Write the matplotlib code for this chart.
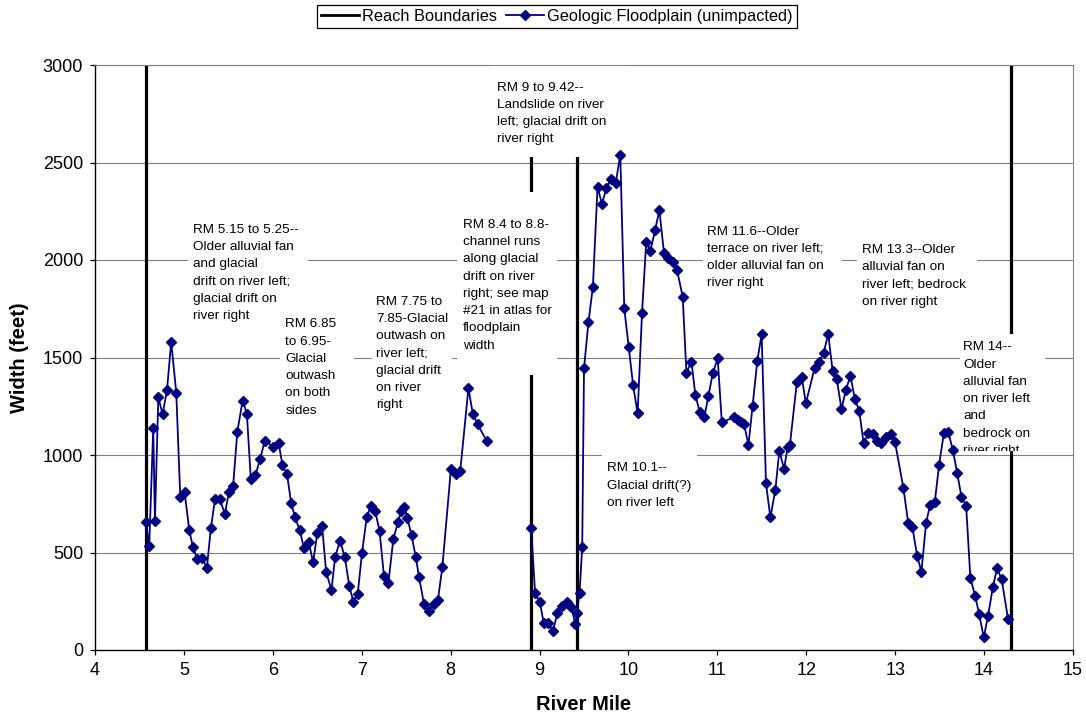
import matplotlib
matplotlib.use('Agg')
import matplotlib.pyplot as plt
from matplotlib.patches import Rectangle
from matplotlib.lines import Line2D
from matplotlib.transforms import Bbox, TransformedBbox

plt.rcParams['font.family'] = ['Liberation Sans', 'DejaVu Sans']

# ---------------- data ----------------
# Geologic floodplain width, upstream segment (RM 4.57 - 8.4)
river_mile_a = [4.570, 4.610, 4.655, 4.674, 4.712, 4.760, 4.810, 4.857, 4.914, 4.959,
                5.008, 5.060, 5.100, 5.150, 5.206, 5.258, 5.303, 5.350, 5.404, 5.460,
                5.506, 5.554, 5.600, 5.660, 5.708, 5.753, 5.805, 5.857, 5.910, 6.005,
                6.066, 6.108, 6.160, 6.206, 6.250, 6.303, 6.348, 6.404, 6.453, 6.500,
                6.554, 6.600, 6.660, 6.700, 6.756, 6.810, 6.860, 6.907, 6.955, 7.003,
                7.056, 7.100, 7.150, 7.200, 7.250, 7.300, 7.356, 7.408, 7.445, 7.480,
                7.513, 7.560, 7.607, 7.644, 7.700, 7.753, 7.810, 7.857, 7.907, 8.003,
                8.056, 8.108, 8.200, 8.250, 8.303, 8.404]
width_a = [658, 535, 1137, 662, 1296, 1209, 1333, 1581, 1319, 786,
           810, 615, 530, 465, 473, 419, 624, 774, 774, 697,
           809, 843, 1116, 1279, 1212, 875, 897, 979, 1073, 1043,
           1060, 949, 901, 755, 680, 615, 525, 552, 451, 598,
           638, 398, 308, 475, 561, 475, 330, 245, 289, 497,
           680, 738, 714, 612, 381, 345, 571, 655, 714, 735,
           679, 588, 479, 376, 236, 198, 234, 256, 426, 927,
           904, 918, 1342, 1210, 1159, 1072]

# Geologic floodplain width, downstream segment (RM 8.9 - 14.3)
river_mile_b = [8.906, 8.950, 9.003, 9.048, 9.100, 9.150, 9.200, 9.250, 9.306, 9.356,
                9.404, 9.420, 9.450, 9.480, 9.500, 9.550, 9.600, 9.652, 9.702, 9.753,
                9.803, 9.857, 9.908, 9.953, 10.002, 10.052, 10.103, 10.153, 10.200, 10.247,
                10.300, 10.348, 10.400, 10.449, 10.498, 10.546, 10.610, 10.652, 10.708, 10.753,
                10.800, 10.854, 10.900, 10.948, 11.004, 11.050, 11.192, 11.236, 11.265, 11.300,
                11.350, 11.396, 11.449, 11.498, 11.547, 11.596, 11.652, 11.697, 11.750, 11.790,
                11.816, 11.894, 11.950, 11.995, 12.093, 12.138, 12.194, 12.247, 12.296, 12.344,
                12.396, 12.445, 12.497, 12.546, 12.596, 12.645, 12.698, 12.745, 12.795, 12.846,
                12.895, 12.951, 12.998, 13.093, 13.146, 13.194, 13.247, 13.295, 13.348, 13.393,
                13.446, 13.494, 13.547, 13.596, 13.648, 13.697, 13.745, 13.798, 13.846, 13.899,
                13.944, 13.996, 14.045, 14.098, 14.146, 14.198, 14.270]
width_b = [627, 291, 245, 137, 137, 97, 188, 227, 245, 222,
           133, 191, 294, 530, 1444, 1681, 1863, 2372, 2289, 2369,
           2417, 2396, 2540, 1752, 1556, 1359, 1214, 1730, 2094, 2048,
           2154, 2256, 2034, 2009, 1991, 1949, 1812, 1422, 1479, 1308,
           1222, 1197, 1304, 1419, 1495, 1167, 1195, 1180, 1171, 1159,
           1051, 1251, 1482, 1619, 855, 680, 820, 1022, 928, 1039,
           1051, 1373, 1399, 1265, 1444, 1475, 1521, 1621, 1431, 1388,
           1234, 1333, 1407, 1287, 1226, 1060, 1111, 1106, 1074, 1062,
           1094, 1106, 1066, 829, 653, 629, 482, 402, 653, 744,
           761, 949, 1111, 1120, 1026, 909, 786, 740, 368, 279,
           185, 65, 176, 321, 419, 362, 157]

reach_boundaries = [4.57, 8.9, 9.42, 14.3]
x_ticks = list(range(4, 16))
y_ticks = list(range(0, 3001, 500))

notes = [
    ["RM 9 to 9.42--", "Landslide on river", "left; glacial drift on", "river right"],
    ["RM 5.15 to 5.25--", "Older alluvial fan", "and glacial", "drift on river left;",
     "glacial drift on", "river right"],
    ["RM 6.85", "to 6.95-", "Glacial", "outwash", "on both", "sides"],
    ["RM 7.75 to", "7.85-Glacial", "outwash on", "river left;", "glacial drift",
     "on river", "right"],
    ["RM 8.4 to 8.8-", "channel runs", "along glacial", "drift on river",
     "right; see map", "#21 in atlas for", "floodplain", "width"],
    ["RM 11.6--Older", "terrace on river left;", "older alluvial fan on", "river right"],
    ["RM 13.3--Older", "alluvial fan on", "river left; bedrock", "on river right"],
    ["RM 14--", "Older", "alluvial fan", "on river left", "and", "bedrock on", "river right"],
    ["RM 10.1--", "Glacial drift(?)", "on river left"],
]
# box layout in pixels: (left, top, right, bottom, text_x, first_line_center_y)
note_boxes = [
    (490, 65.6, 628, 157, 496.7, 86.0),
    (188, 212, 308, 325, 192.7, 228.0),
    (280, 315, 354, 420, 285.3, 322.7),
    (372, 290, 452, 412, 376.0, 300.0),
    (457, 192, 557, 375, 462.7, 223.3),
    (703, 220, 842, 292, 707.3, 230.0),
    (857, 238, 977, 310, 862.3, 248.3),
    (960, 334, 1045, 451, 963.3, 345.7),
    (602, 450, 697, 512, 606.7, 466.7),
]

# ---------------- figure ----------------
W, H = 1086, 721
fig = plt.figure(figsize=(W / 100, H / 100), dpi=100)
ax = fig.add_axes([95 / W, 1 - 650 / H, (1073 - 95) / W, (650 - 65) / H])
ax.set_xlim(4, 15)
ax.set_ylim(0, 3000)
ax.set_xticks(x_ticks)
ax.set_yticks(y_ticks)
ax.set_axisbelow(True)
ax.yaxis.grid(True, color='#808080', lw=0.8)

for s in ['left', 'bottom']:
    ax.spines[s].set_color('black')
    ax.spines[s].set_linewidth(1.0)
for s in ['top', 'right']:
    ax.spines[s].set_color('#808080')
    ax.spines[s].set_linewidth(0.8)

ax.tick_params(direction='out', length=3.5, width=0.9, labelsize=13, colors='black')
ax.tick_params(axis='y', pad=5)
ax.tick_params(axis='x', pad=5)

for b in reach_boundaries:
    ax.plot([b, b], [0, 3000], color='black', lw=2.3, solid_capstyle='butt', zorder=2)

line_kw = dict(color='#000080', lw=1.3, marker='D', ms=4.6, mfc='#000080',
               mec='#000080', zorder=5, clip_on=False)
ax.plot(river_mile_a, width_a, **line_kw)
ax.plot(river_mile_b, width_b, **line_kw)


def fx(px):
    return px / W


def fy(py):
    return 1 - py / H


for lines, (l, t, r, bt, tx, ty) in zip(notes, note_boxes):
    rect = Rectangle((fx(l), fy(bt)), fx(r) - fx(l), fy(t) - fy(bt),
                     transform=fig.transFigure, facecolor='white',
                     edgecolor='none', zorder=3, clip_on=False)
    ax.add_patch(rect)
    clipbox = TransformedBbox(Bbox.from_extents(fx(l), fy(bt), fx(r), fy(t)),
                              fig.transFigure)
    for i, s in enumerate(lines):
        txt = ax.text(fx(tx), fy(ty + 4.6 + i * 17.25), s, transform=fig.transFigure,
                      ha='left', va='baseline', fontsize=9.7, color='black', zorder=4)
        txt.set_clip_box(clipbox)
        txt.set_clip_on(True)

ax.set_ylabel('Width (feet)', fontsize=14.5, fontweight='bold', va='center')
ax.yaxis.set_label_coords((20 - 95) / 978, 0.5)
ax.set_xlabel('River Mile', fontsize=14.5, fontweight='bold', va='center')
ax.xaxis.set_label_coords(0.5, (650 - 705) / 585)

handles = [Line2D([], [], color='black', lw=2.0),
           Line2D([], [], color='#000080', lw=1.3, marker='D', ms=4.6)]
labels = ['Reach Boundaries', 'Geologic Floodplain (unimpacted)']
leg = fig.legend(handles, labels, loc='center', bbox_to_anchor=(557 / W, 1 - 16.2 / H),
                 ncol=2, frameon=True, fancybox=False, edgecolor='black', framealpha=1,
                 fontsize=11.8, handlelength=2.3, handletextpad=0.2, columnspacing=0.55,
                 borderpad=0.25, borderaxespad=0)
leg.get_frame().set_linewidth(0.9)

fig.savefig('out.png', dpi=100)
